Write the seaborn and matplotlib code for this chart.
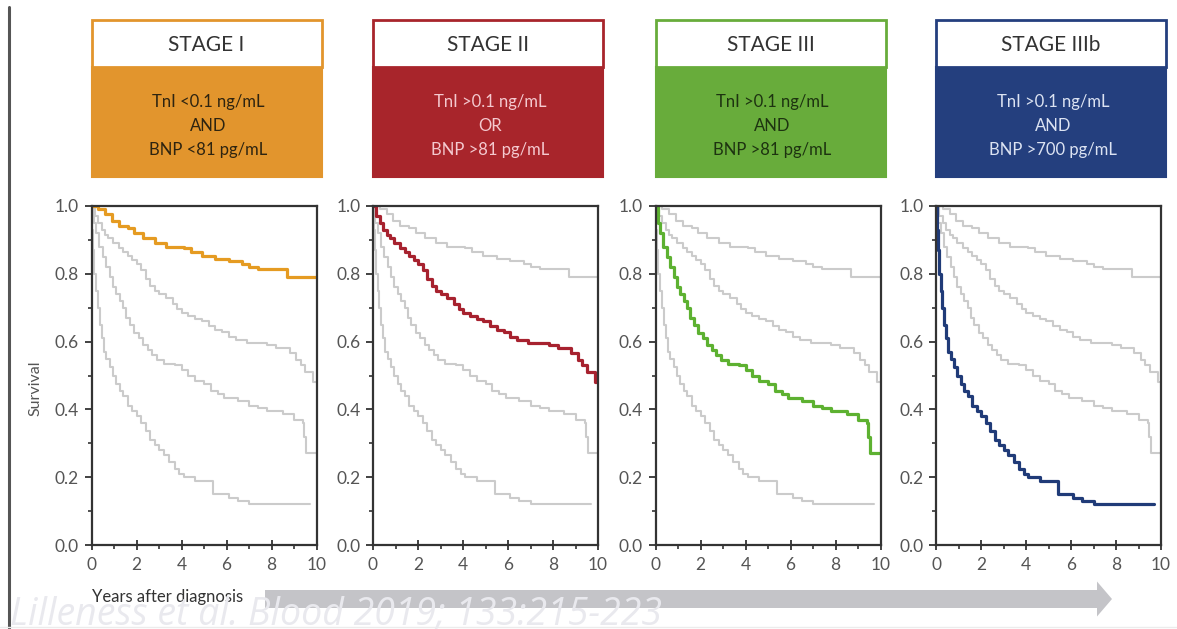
import matplotlib
matplotlib.use("Agg")
import matplotlib.pyplot as plt
import matplotlib.patches as mpatches
import seaborn as sns
import numpy as np
import pandas as pd

# survival curves (step starts, years after diagnosis)
stage1_years = [0, 0.3, 0.6, 0.9, 1.2, 1.6, 1.9, 2.3, 2.8, 3.3, 4.1, 4.4, 4.9, 5.5,
                6.1, 6.7, 7.0, 7.4, 8.7, 10.0]
stage1_surv = [1.0, 0.99, 0.975, 0.955, 0.94, 0.935, 0.92, 0.905, 0.89, 0.88, 0.875,
               0.865, 0.853, 0.845, 0.838, 0.83, 0.82, 0.813, 0.79, 0.79]

stage2_years = [0, 0.15, 0.3, 0.45, 0.6, 0.75, 0.95, 1.2, 1.4, 1.6, 1.8, 2.0, 2.2,
                2.4, 2.6, 2.8, 3.0, 3.3, 3.6, 3.8, 4.0, 4.3, 4.6, 4.9, 5.2, 5.5,
                5.8, 6.1, 6.4, 6.9, 7.8, 8.2, 8.8, 9.1, 9.3, 9.5, 9.85, 10.0]
stage2_surv = [1.0, 0.97, 0.95, 0.93, 0.915, 0.905, 0.89, 0.877, 0.865, 0.853, 0.84,
               0.83, 0.81, 0.785, 0.765, 0.75, 0.74, 0.73, 0.71, 0.695, 0.683, 0.675,
               0.667, 0.66, 0.645, 0.635, 0.627, 0.615, 0.605, 0.595, 0.59, 0.58,
               0.565, 0.545, 0.53, 0.51, 0.48, 0.48]

stage3_years = [0, 0.1, 0.2, 0.35, 0.5, 0.65, 0.8, 0.95, 1.1, 1.25, 1.4, 1.55, 1.7,
                1.9, 2.1, 2.3, 2.5, 2.7, 2.9, 3.2, 3.7, 4.0, 4.3, 4.6, 5.0, 5.3,
                5.6, 5.9, 6.5, 7.0, 7.4, 7.8, 8.5, 9.0, 9.4, 9.45, 9.55, 10.0]
stage3_surv = [1.0, 0.95, 0.92, 0.88, 0.85, 0.82, 0.79, 0.76, 0.74, 0.72, 0.70, 0.67,
               0.65, 0.625, 0.61, 0.59, 0.575, 0.56, 0.545, 0.535, 0.53, 0.515, 0.5,
               0.485, 0.475, 0.455, 0.445, 0.435, 0.425, 0.41, 0.405, 0.395, 0.385,
               0.37, 0.36, 0.32, 0.27, 0.27]

stage3b_years = [0, 0.03, 0.08, 0.13, 0.2, 0.28, 0.36, 0.45, 0.55, 0.65, 0.8, 0.95,
                 1.1, 1.25, 1.4, 1.6, 1.8, 2.0, 2.2, 2.4, 2.6, 2.8, 3.0, 3.2, 3.45,
                 3.7, 3.9, 4.1, 4.6, 5.4, 6.1, 6.5, 7.0, 9.7]
stage3b_surv = [1.0, 0.93, 0.87, 0.8, 0.75, 0.7, 0.65, 0.61, 0.57, 0.55, 0.525, 0.5,
                0.475, 0.455, 0.44, 0.41, 0.395, 0.38, 0.36, 0.335, 0.31, 0.295, 0.28,
                0.265, 0.245, 0.225, 0.21, 0.2, 0.19, 0.15, 0.14, 0.13, 0.12, 0.12]

stage_names = ["STAGE I", "STAGE II", "STAGE III", "STAGE IIIb"]
stage_criteria = [
    "TnI <0.1 ng/mL\nAND\nBNP <81 pg/mL",
    "TnI >0.1 ng/mL\nOR\nBNP >81 pg/mL",
    "TnI >0.1 ng/mL\nAND\nBNP >81 pg/mL",
    "TnI >0.1 ng/mL\nAND\nBNP >700 pg/mL",
]
y_ticks = [0.0, 0.2, 0.4, 0.6, 0.8, 1.0]
x_ticks = [0, 2, 4, 6, 8, 10]

curves = [
    (stage1_years, stage1_surv),
    (stage2_years, stage2_surv),
    (stage3_years, stage3_surv),
    (stage3b_years, stage3b_surv),
]

box_colors = ["#E2952D", "#A8252B", "#68AC3B", "#243F7E"]
line_colors = ["#E59B22", "#A7222F", "#5DB131", "#203B78"]
text_colors = ["#2e2410", "#F4C9CF", "#1d3310", "#DCE3F2"]
gray = "#cbcbcb"

sns.set_style("ticks")
plt.rcParams["font.family"] = ["Lato", "DejaVu Sans"]

W, H = 1177, 629
fig = plt.figure(figsize=(W / 100, H / 100), dpi=100)


def fx(px):
    return px / W


def fy(py):
    return 1 - py / H


panel_left = [91.5, 373, 655.5, 936]
ax_w = 225
ax_top, ax_bot = 206, 545
box_w = 230

for i in range(4):
    left = panel_left[i]
    ax = fig.add_axes([fx(left), fy(ax_bot), ax_w / W, (ax_bot - ax_top) / H])

    # gray background curves first, highlighted one on top
    for j, (yrs, sv) in enumerate(curves):
        if j == i:
            continue
        sns.lineplot(x=yrs, y=sv, ax=ax, color=gray, linewidth=1.5,
                     drawstyle="steps-post", estimator=None, sort=False)
    yrs, sv = curves[i]
    sns.lineplot(x=yrs, y=sv, ax=ax, color=line_colors[i], linewidth=2.3,
                 drawstyle="steps-post", estimator=None, sort=False)

    ax.set_xlim(0, 10)
    ax.set_ylim(0, 1.0)
    ax.set_xticks(x_ticks)
    ax.set_xticks(np.arange(1, 10, 2), minor=True)
    ax.set_yticks(y_ticks)
    ax.set_yticklabels([f"{v:.1f}" for v in y_ticks])
    ax.set_yticks(np.arange(0.1, 1.0, 0.2), minor=True)
    ax.tick_params(axis="both", which="major", labelsize=12.5, colors="#333",
                   labelcolor="#555", width=1.3)
    ax.tick_params(axis="x", which="major", direction="inout", length=7, pad=5)
    ax.tick_params(axis="y", which="major", direction="out", length=5, pad=4)
    ax.tick_params(axis="both", which="minor", direction="out", length=3,
                   width=1.2, colors="#333")
    for sp in ax.spines.values():
        sp.set_color("#333")
        sp.set_linewidth(1.6)
    ax.set_xlabel("")
    ax.set_ylabel("")

    # header boxes
    fig.patches.append(mpatches.Rectangle(
        (fx(left), fy(177)), box_w / W, (177 - 67) / H, transform=fig.transFigure,
        facecolor=box_colors[i], edgecolor=box_colors[i], linewidth=1.5))
    fig.patches.append(mpatches.Rectangle(
        (fx(left), fy(67)), box_w / W, (67 - 20) / H, transform=fig.transFigure,
        facecolor="white", edgecolor=box_colors[i], linewidth=2))
    fig.text(fx(left + box_w / 2), fy(45), stage_names[i], ha="center",
             va="center", fontsize=15, color="#333")
    fig.text(fx(left + box_w / 2 + 2), fy(126), stage_criteria[i], ha="center",
             va="center", fontsize=12, color=text_colors[i], linespacing=1.6)

fig.text(fx(35), fy(388), "Survival", rotation=90, ha="center", va="center",
         fontsize=11.5, color="#555")
fig.text(fx(92), fy(597), "Years after diagnosis", ha="left", va="center",
         fontsize=12, color="#333")

# progression arrow
fig.patches.append(mpatches.FancyArrow(
    fx(265), fy(599), fx(1112) - fx(265), 0, width=18 / H, head_width=35 / H,
    head_length=15 / W, length_includes_head=True, transform=fig.transFigure,
    facecolor="#c4c4c8", edgecolor="none"))

# left frame line and faint bottom line
fig.add_artist(plt.Line2D([fx(9), fx(9)], [fy(7), fy(629)], color="#555",
                          linewidth=2.2, transform=fig.transFigure))
fig.add_artist(plt.Line2D([0, 1], [fy(627), fy(627)], color="#ececec",
                          linewidth=1, transform=fig.transFigure))

fig.text(fx(662), fy(625), "Lilleness et al. Blood 2019; 133:215-223", ha="right",
         va="baseline", fontsize=27, style="italic", color="#e9e9ee",
         family=["Open Sans", "DejaVu Sans"])

fig.savefig("out.png", dpi=100)
